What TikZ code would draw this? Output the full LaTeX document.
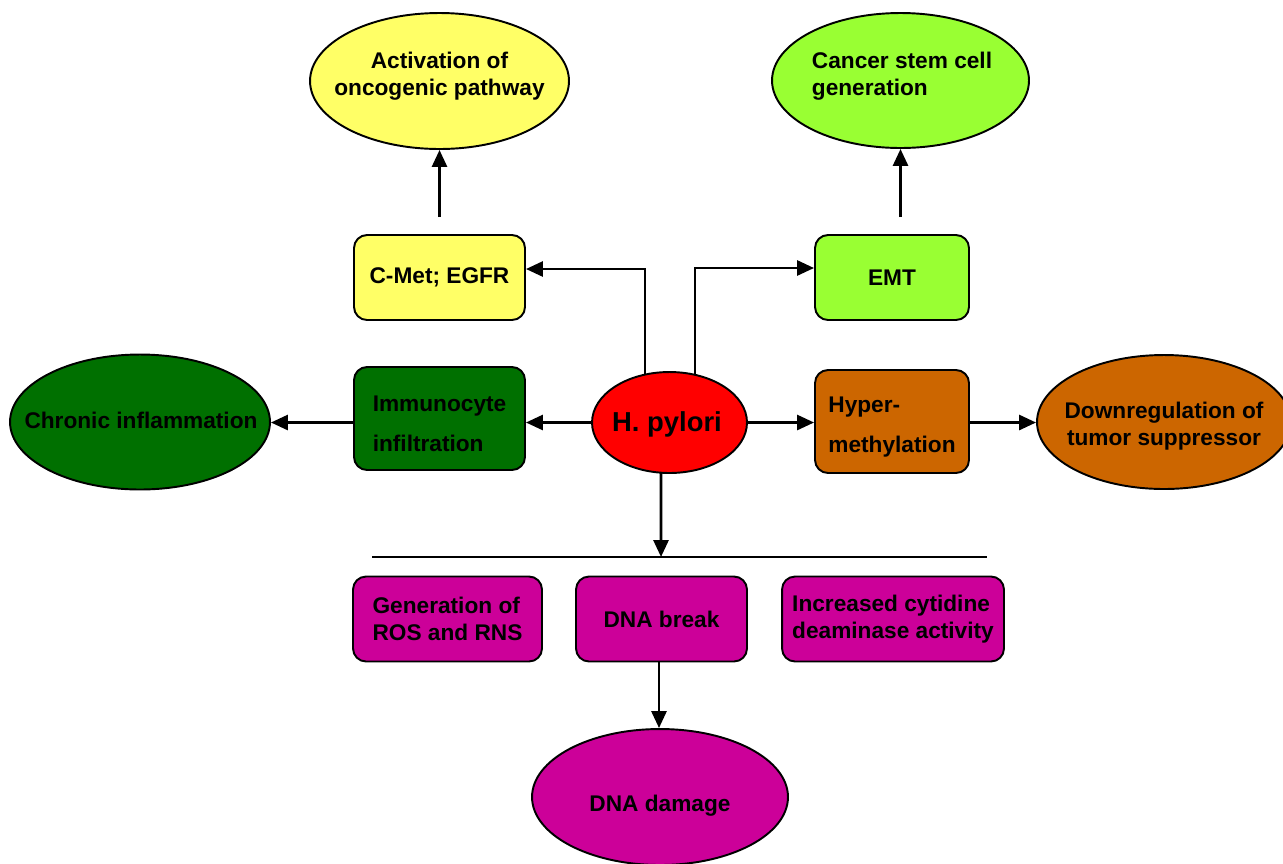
\documentclass[tikz,border=0pt]{standalone}
\usepackage{fontspec}
\setmainfont{Liberation Sans}
\usetikzlibrary{shapes.geometric,arrows.meta,backgrounds}
\definecolor{cyel}{HTML}{FFFF66}
\definecolor{cgrn}{HTML}{99FF33}
\definecolor{cdgrn}{HTML}{007000}
\definecolor{cred}{HTML}{FF0000}
\definecolor{corg}{HTML}{CC6600}
\definecolor{cmag}{HTML}{CC0099}
\begin{document}
\begin{tikzpicture}[x=0.02cm,y=-0.02cm,
  box/.style={draw=black,line width=1.1pt,rounded corners=0.26cm,minimum height=1.70cm,align=left,inner sep=0pt,
    font=\fontsize{12.9}{15.4}\selectfont\bfseries},
  ell/.style={draw=black,line width=1.1pt,ellipse,inner sep=0pt},
  txt/.style={inner sep=0pt,font=\fontsize{12.9}{15.4}\selectfont\bfseries},
  arr/.style={line width=1.6pt,-{Triangle[length=0.34cm,width=0.30cm]}},
  ln/.style={line width=1.6pt}]
\useasboundingbox (0,0) rectangle (1283,863);

% ellipses
\node[ell,fill=cyel,minimum width=5.18cm,minimum height=2.72cm] (act) at (439.5,81) {};
\node[txt,align=center] (actt) at (439.5,76) {Activation of\\oncogenic pathway};
\node[ell,fill=cgrn,minimum width=5.14cm,minimum height=2.70cm] (csc) at (900.5,80.5) {};
\node[txt,align=left] (csct) at (902,76) {Cancer stem cell\\generation};
\node[ell,fill=cdgrn,minimum width=5.2cm,minimum height=2.70cm] (chr) at (140,422) {};
\node[txt] (chrt) at (141,420) {Chronic inflammation};
\node[ell,fill=corg,minimum width=5.08cm,minimum height=2.68cm] (down) at (1164,422) {};
\node[txt,align=center] (downt) at (1164,426) {Downregulation of\\tumor suppressor};
\node[ell,fill=cred,minimum width=3.1cm,minimum height=2.02cm] (hp) at (669.5,422.5) {};
\node[txt,font=\fontsize{15.6}{18}\selectfont\bfseries] (hpt) at (667,424) {H. pylori};
\node[ell,fill=cmag,minimum width=5.12cm,minimum height=2.72cm] (dmg) at (660,797) {};
\node[txt] (dmgt) at (660,806) {DNA damage};

% boxes
\node[box,fill=cyel,minimum width=3.42cm] (cmet) at (439.5,277.5) {C-Met; EGFR};
\node[box,fill=cgrn,minimum width=3.08cm] (emt) at (892,277.5) {EMT};
\node[box,fill=cdgrn,minimum width=3.42cm,minimum height=2.06cm,
  label={[txt,align=left,yshift=-0.11cm,font=\fontsize{12.9}{23}\selectfont\bfseries]center:Immunocyte\\infiltration}] (imm) at (439.5,418.5) {};
\node[box,fill=corg,minimum width=3.08cm,minimum height=2.06cm,
  label={[txt,align=left,yshift=-0.11cm,font=\fontsize{12.9}{23}\selectfont\bfseries]center:Hyper-\\methylation}] (hyp) at (892,421.5) {};
\node[box,fill=cmag,minimum width=3.78cm] (gen) at (447.5,619) {Generation of\\ROS and RNS};
\node[box,fill=cmag,minimum width=3.42cm] (dnab) at (661.5,619) {DNA break};
\node[box,fill=cmag,minimum width=4.44cm] (incr) at (893,619) {Increased cytidine\\deaminase activity};

% connectors
\coordinate (actfrom) at (439.5,217);
\coordinate (cscfrom) at (900.5,217);
\coordinate (barL) at (372,557);
\coordinate (barR) at (987,557);
\coordinate (barM) at (661,557);
\draw[arr] (actfrom) -- (act.south);
\draw[arr] (cscfrom) -- (csc.south);
\begin{scope}[on background layer]
\draw[arr] ([xshift=-0.49cm]hp.center) |- ([yshift=0.17cm]cmet.east);
\draw[arr] ([xshift=0.51cm]hp.center) |- ([yshift=0.19cm]emt.west);
\draw[arr] ([xshift=-0.17cm]hp.center) -- (barM);
\end{scope}
\draw[arr] (hp.west) -- (imm.east |- hp.west);
\draw[arr] (imm.west |- hp.west) -- (chr.east |- hp.west);
\draw[arr] (hp.east) -- (hyp.west |- hp.east);
\draw[arr] (hyp.east |- hp.east) -- (down.west |- hp.east);
\draw[ln] (barL) -- (barR);
\draw[arr] ([xshift=-0.05cm]dnab.south) -- ([xshift=-0.05cm]dnab.south |- dmg.north);
\end{tikzpicture}
\end{document}
